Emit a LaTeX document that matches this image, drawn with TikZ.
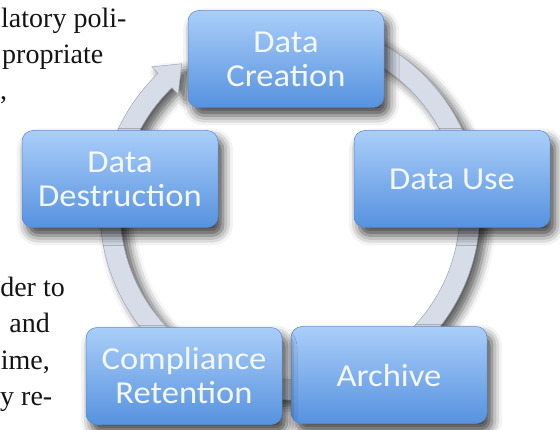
\documentclass[tikz,border=0pt]{standalone}
\usepackage{fontspec}
\usepackage{tikz}
\usetikzlibrary{shadows.blur}
\newfontfamily\carlito[FakeStretch=1.08]{Carlito}
\newfontfamily\pageserif{Liberation Serif}

\definecolor{stagetop}{RGB}{170,206,249}
\definecolor{stagebot}{RGB}{86,146,223}
\definecolor{stageedge}{RGB}{92,138,204}
\definecolor{stagetext}{RGB}{244,248,253}
\definecolor{ringfill}{RGB}{214,221,232}
\definecolor{ringedge}{RGB}{160,168,180}

\tikzset{
  stage/.style={rounded corners=11pt, minimum width=196pt, minimum height=97pt,
    top color=stagetop, bottom color=stagebot, draw=stageedge, line width=0.5pt,
    text=stagetext, align=center, font=\carlito\fontsize{32}{34}\selectfont,
    blur shadow={shadow xshift=5pt, shadow yshift=-8pt,
      shadow blur radius=10pt, shadow opacity=75}},
  pagetext/.style={inner sep=0pt, text=black!92, font=\pageserif\fontsize{28}{36}\selectfont}
}

\begin{document}
\begin{tikzpicture}[x=1pt, y=1pt]
  \useasboundingbox (0,0) rectangle (560,429);

  \coordinate (O) at (290,219);

  % cycle arrow
  \filldraw[fill=ringfill, draw=ringedge, line width=0.5pt,
    blur shadow={shadow xshift=7pt, shadow yshift=-6pt,
      shadow blur radius=9pt, shadow opacity=65}]
  ([shift={(80:190)}]O) arc[start angle=80, end angle=-226, radius=190]
  -- ([shift={(-226:199)}]O)
  -- ([shift={(-233.5:182)}]O)
  -- ([shift={(-226:161)}]O)
  -- ([shift={(-226:170)}]O) arc[start angle=-226, end angle=80, radius=170]
  -- cycle;

  % stages
  \node[stage] (create) at (286,370) {Data\\Creation};
  \node[stage] (use) at (452,250) {Data Use};
  \node[stage] (archive) at (389,54) {Archive};
  \node[stage] (comply) at (184,53) {Compliance\\Retention};
  \node[stage] (destroy) at (120,250) {Data\\Destruction};

  % text of the page
  \node[pagetext, anchor=base west] (p1) at (1,401) {latory poli-};
  \node[pagetext, anchor=base west] (p2) at (2,365) {propriate};
  \node[pagetext, anchor=base west] (p3) at (0,329) {,};
  \node[pagetext, anchor=base east] (p4) at (65,132) {der to};
  \node[pagetext, anchor=base east] (p5) at (50,96) {and};
  \node[pagetext, anchor=base east] (p6) at (50,60) {ime,};
  \node[pagetext, anchor=base west] (p7) at (0,24) {y re-};
\end{tikzpicture}
\end{document}
